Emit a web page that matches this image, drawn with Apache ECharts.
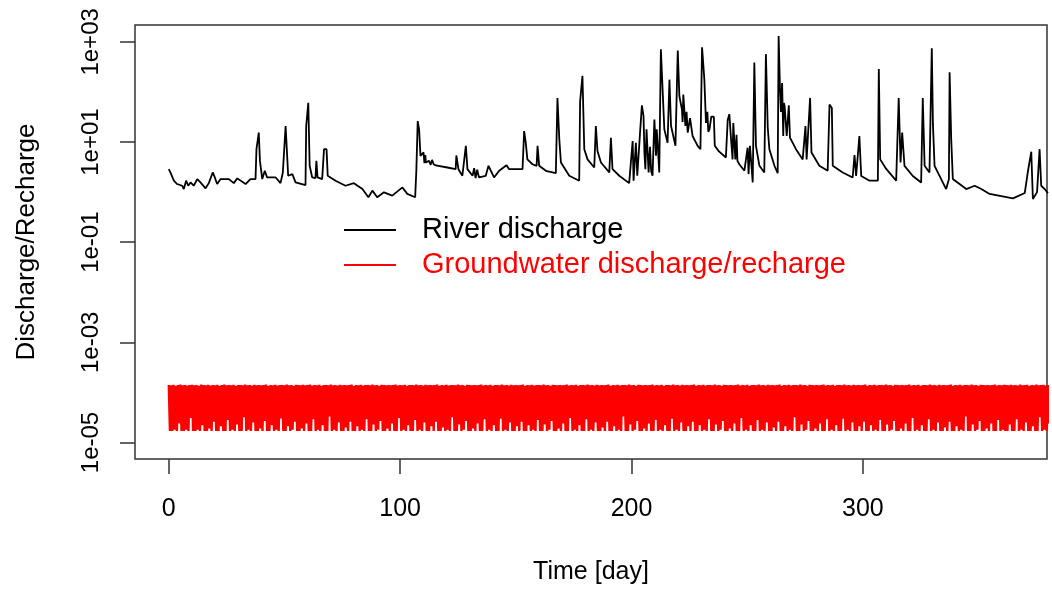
<!DOCTYPE html>
<html>
<head>
<meta charset="utf-8">
<title>River discharge</title>
<script src="https://cdn.jsdelivr.net/npm/echarts@6/dist/echarts.min.js"></script>
<style>
  html, body { margin: 0; padding: 0; background: #fff; }
  #main { width: 1052px; height: 590px; }
</style>
</head>
<body>
<div id="main"></div>
<script>
// 河流流量 (day, value)
const riverDay = [
  0, 0.7, 2.2, 3.6, 5.8, 6.5, 7.5, 8.4, 9.4, 10.8, 12.3, 13.7, 15.9, 17.3, 19.0, 19.9, 20.9, 22.4, 26.0, 28.1,
  29.6, 33.2, 35.3, 37.5, 37.9, 38.9, 39.4, 40.4, 41.5, 42.5, 46.2, 48.3, 49.3, 50.5, 51.1, 51.6, 53.4, 54.8, 59.1, 59.4,
  60.3, 60.9, 62.0, 63.4, 63.8, 64.3, 66.3, 67.1, 68.2, 68.7, 72.1, 76.4, 80.0, 83.7, 86.3, 88.0, 90.1, 93.0, 96.6, 101.0,
  103.1, 106.5, 107.0, 107.6, 108.2, 108.8, 109.6, 110.1, 110.5, 110.9, 111.1, 112.5, 113.2, 113.8, 114.5, 115.4, 120.4, 124.0, 124.3, 125.2,
  126.9, 128.4, 129.1, 131.3, 132.0, 132.6, 133.3, 134.1, 137.0,
  138.2, 140.6, 142.8, 146.0, 147.1, 152.9, 153.6, 154.3, 155.0, 157.2, 159.0, 159.4, 160.1, 163.0, 167.3, 168.0, 168.8, 169.5, 173.1, 177.4,
  177.8, 178.8, 179.6, 181.0, 183.9, 184.6, 185.3, 186.8, 190.4, 191.1, 191.8, 194.7, 199.0, 200.5, 200.9, 201.9, 202.5, 203.7, 204.5, 205.2, 205.6,
  206.0, 206.5, 207.4, 208.0, 208.5, 209.1, 209.9, 210.6, 210.9, 211.3, 212.0, 212.7, 213.2, 214.2, 215.6, 216.4, 217.1, 219.0, 220.0, 220.7,
  221.8, 222.1, 222.4, 223.3, 223.8,
  224.3, 225.3, 226.4, 228.6, 229.8, 230.5, 231.5, 232.2, 232.8, 233.2, 233.7, 234.5, 235.6, 236.0, 237.8, 240.8, 241.6, 242.3, 243.0, 243.7,
  244.0, 244.9, 245.4, 245.8,
  246.6, 248.8, 250.2, 250.6, 251.2, 252.4, 253.1, 253.8, 255.3, 257.4, 258.1, 258.9, 259.6, 261.8, 263.2, 263.6, 264.2, 264.6, 265.1, 265.6,
  265.9, 266.2,
  267.1, 268.0, 268.5, 271.1, 274.0, 275.2, 275.7, 277.2, 277.8, 281.2, 284.8, 285.6, 286.6, 287.0, 291.3, 295.6, 296.4, 297.1, 298.5, 299.3,
  302.9, 306.5, 306.9, 307.5, 310.1, 314.4, 315.5, 316.3, 317.0, 318.0, 321.6, 325.2, 325.9, 326.7, 328.8, 329.8, 330.3, 331.0, 336.0, 337.2,
  337.5, 338.2, 338.9, 344.7, 348.3, 351.2, 354.8, 364.9, 370.0, 371.4, 372.8, 373.5, 375.3, 376.4, 377.1, 378.6, 380.0
];
const riverQ = [
  2.87, 2.47, 1.69, 1.45, 1.34, 1.15, 1.69, 1.34, 1.56, 1.34, 1.82, 1.56, 1.19, 1.51, 2.47, 1.96, 1.45, 1.82, 1.82, 1.51,
  1.88, 1.45, 1.82, 1.82, 7.2, 15.4, 4.2, 1.82, 2.66, 1.96, 1.96, 1.51, 2.47, 20.9, 6.1, 2.12, 2.29, 1.56, 1.38, 20.9,
  60.5, 3.35, 1.96, 1.9, 4.2, 1.96, 1.82, 7.2, 7.2, 2.12, 1.69, 1.34, 1.51, 1.15, 0.79, 1.07, 0.79, 0.99, 0.85, 1.24,
  0.92, 0.79, 2.66, 26.2, 17.9, 5.3, 4.9, 6.2, 3.8, 5.5, 3.9, 4.2, 3.5, 4.4, 3.6, 3.4, 3.1, 2.87, 5.4, 2.87,
  2.12, 8.4, 2.87, 2.12, 3.0, 1.9, 2.8, 1.96, 2.12,
  3.35, 1.96, 2.66, 3.45, 2.87, 2.87, 16.6, 9.7, 4.5, 3.6, 3.35, 8.4, 3.35, 2.66, 2.39, 76, 11.3, 3.9, 2.12, 1.69,
  65, 211, 7.2, 4.5, 3.1, 20.9, 6.6, 3.9, 2.47, 12.2, 2.87, 2.12, 1.51, 10.5, 1.69, 9.7, 2.12, 15.4, 54, 33, 6,
  2.87, 17.9, 2.47, 8, 2.6, 2.12, 28, 5.3, 18, 9.7, 2.47, 714, 205, 17.9, 9.7, 176, 20.9, 8.4, 673, 82,
  45, 25, 89, 20.9, 40,
  15.4, 30, 13.2, 8.4, 7.2, 783, 176, 24, 40, 16, 17.9, 32, 32, 8.4, 6.5, 4.9, 28, 36, 12, 4.5,
  24, 4.5, 14, 4.2,
  3.6, 2.67, 7.7, 2.29, 8.4, 1.56, 389, 8.4, 3.35, 2.47, 569, 19.3, 7.2, 3.35, 2.39, 1315, 111, 40, 151, 13.2,
  60, 52,
  13.2, 54, 12.2, 7.2, 4.5, 20.9, 4.5, 76, 6.2, 3.35, 2.67, 56, 48, 3.35, 2.47, 1.96, 5.5, 2.1, 13.2, 2.1,
  1.69, 1.69, 287, 4.5, 2.9, 1.69, 76, 3.9, 15.4, 3.35, 2.1, 1.56, 76, 3.35, 2.47, 748, 22.5, 3.35, 1.15, 1.8,
  246, 11.3, 1.82, 1.15, 1.34, 1.15, 0.92, 0.75, 0.96, 2.67, 6.4, 0.73, 1.0, 7.2, 1.34, 1.15, 0.95
];

// 地下水补给/排泄, 单位 1e-5, 每半天一个点
const gwStep = 0.5;
const gwUnit = 1e-5;
const gwValues = [
  14,1.7,13.8,1.7,14.2,1.8,13.6,1.7,14,2.4,14.3,1.7,13.9,1.7,14.1,1.8,13.7,1.7,14,3.1,14.2,1.7,13.8,1.7,14,1.8,13.5,1.7,14.3,2.2,14,1.7,13.9,1.7,14.2,1.9,13.7,1.7,14.1,2.6,
  13.9,1.7,14.2,1.7,13.6,2.1,14,1.7,14.3,1.7,13.8,2.8,14.1,1.7,13.9,1.8,14.2,1.7,13.5,2.3,14,1.7,14.1,1.7,13.8,3.2,14.3,1.7,13.9,1.8,14,1.7,13.7,2.5,14.2,1.7,13.9,1.7,
  14.1,1.9,13.8,1.7,14,2.7,14.3,1.7,13.6,1.7,14.1,2.2,13.9,1.7,14.2,1.8,13.7,1.7,14,3,14.1,1.7,13.8,1.7,14.3,2.1,13.9,1.7,14,1.8,13.6,2.6,14.2,1.7,14,1.7,13.8,1.9,
  14.2,1.7,13.9,2.4,14,1.7,14.3,1.7,13.7,2.9,14.1,1.7,13.9,1.8,14.2,1.7,13.5,2.2,14,1.7,14.1,1.7,13.8,3.3,14.3,1.7,13.9,1.8,14,1.7,13.7,2.5,14.2,1.7,13.9,1.7,14.1,2,
  13.8,1.7,14,2.6,14.3,1.7,13.6,1.7,14.1,2.1,13.9,1.7,14.2,1.8,13.7,1.7,14,2.9,14.1,1.7,13.8,1.7,14.3,2.3,13.9,1.7,14,1.8,13.6,2.7,14.2,1.7,14,1.7,13.8,1.9,14.1,1.7,
  13.9,2.4,14,1.7,14.3,1.7,13.7,3.1,14.1,1.7,13.9,1.8,14.2,1.7,13.5,2.2,14,1.7,14.1,1.7,13.8,2.8,14.3,1.7,13.9,1.8,14,1.7,13.7,2.5,14.2,1.7,13.9,1.7,14.1,2.1,13.8,1.7,
  14,2.6,14.3,1.7,13.6,1.7,14.1,2,13.9,1.7,14.2,1.8,13.7,1.7,14,3.2,14.1,1.7,13.8,1.7,14.3,2.3,13.9,1.7,14,1.8,13.6,2.7,14.2,1.7,14,1.7,13.8,1.9,14.1,1.7,13.9,2.4,
  14,1.7,14.3,1.7,13.7,2.9,14.1,1.7,13.9,1.8,14.2,1.7,13.5,2.2,14,1.7,14.1,1.7,13.8,3,14.3,1.7,13.9,1.8,14,1.7,13.7,2.5,14.2,1.7,13.9,1.7,14.1,2.1,13.8,1.7,14,2.6,
  14.3,1.7,13.6,1.7,14.1,2.2,13.9,1.7,14.2,1.8,13.7,1.7,14,2.8,14.1,1.7,13.8,1.7,14.3,2.3,13.9,1.7,14,1.8,13.6,2.7,14.2,1.7,14,1.7,13.8,1.9,14.1,1.7,13.9,2.4,14,1.7,
  14.3,1.7,13.7,3.1,14.1,1.7,13.9,1.8,14.2,1.7,13.5,2.2,14,1.7,14.1,1.7,13.8,2.9,14.3,1.7,13.9,1.8,14,1.7,13.7,2.5,14.2,1.7,13.9,1.7,14.1,2,13.8,1.7,14,2.6,14.3,1.7,
  13.6,1.7,14.1,2.1,13.9,1.7,14.2,1.8,13.7,1.7,14,3.3,14.1,1.7,13.8,1.7,14.3,2.3,13.9,1.7,14,1.8,13.6,2.7,14.2,1.7,14,1.7,13.8,1.9,14.1,1.7,13.9,2.4,14,1.7,14.3,1.7,
  13.7,2.8,14.1,1.7,13.9,1.8,14.2,1.7,13.5,2.2,14,1.7,14.1,1.7,13.8,3,14.3,1.7,13.9,1.8,14,1.7,13.7,2.5,14.2,1.7,13.9,1.7,14.1,2.1,13.8,1.7,14,2.6,14.3,1.7,13.6,1.7,
  14.1,2.2,13.9,1.7,14.2,1.8,13.7,1.7,14,2.9,14.1,1.7,13.8,1.7,14.3,2.3,13.9,1.7,14,1.8,13.6,2.7,14.2,1.7,14,1.7,13.8,1.9,14.1,1.7,13.9,2.4,14,1.7,14.3,1.7,13.7,3.1,
  14.1,1.7,13.9,1.8,14.2,1.7,13.5,2.2,14,1.7,14.1,1.7,13.8,2.8,14.3,1.7,13.9,1.8,14,1.7,13.7,2.5,14.2,1.7,13.9,1.7,14.1,2,13.8,1.7,14,2.6,14.3,1.7,13.6,1.7,14.1,2.1,
  13.9,1.7,14.2,1.8,13.7,1.7,14,3.2,14.1,1.7,13.8,1.7,14.3,2.3,13.9,1.7,14,1.8,13.6,2.7,14.2,1.7,14,1.7,13.8,1.9,14.1,1.7,13.9,2.4,14,1.7,14.3,1.7,13.7,2.9,14.1,1.7,
  13.9,1.8,14.2,1.7,13.5,2.2,14,1.7,14.1,1.7,13.8,3,14.3,1.7,13.9,1.8,14,1.7,13.7,2.5,14.2,1.7,13.9,1.7,14.1,2.1,13.8,1.7,14,2.6,14.3,1.7,13.6,1.7,14.1,2.2,13.9,1.7,
  14.2,1.8,13.7,1.7,14,2.8,14.1,1.7,13.8,1.7,14.3,2.3,13.9,1.7,14,1.8,13.6,2.7,14.2,1.7,14,1.7,13.8,1.9,14.1,1.7,13.9,2.4,14,1.7,14.3,1.7,13.7,3.1,14.1,1.7,13.9,1.8,
  14.2,1.7,13.5,2.2,14,1.7,14.1,1.7,13.8,2.9,14.3,1.7,13.9,1.8,14,1.7,13.7,2.5,14.2,1.7,13.9,1.7,14.1,2,13.8,1.7,14,2.6,14.3,1.7,13.6,1.7,14.1,2.1,13.9,1.7,14.2,1.8,
  13.7,1.7,14,3.3,14.1,1.7,13.8,1.7,14.3,2.3,13.9,1.7,14,1.8,13.6,2.7,14.2,1.7,14,1.7,13.8,1.9,14.1,1.7,13.9,2.4,14,1.7,14.3,1.7,13.7,2.8,14.1,1.7,13.9,1.8,14.2,1.7,
  14,1.7,13.8,2.3,14.2,1.7,13.9,1.7,14.1,2.9,13.7,1.7,14.3,1.8,13.9,1.7,14,2.5,14.2,1.7,13.6,1.7,14.1,2.1,13.8,1.7,14.3,1.7,13.9,3.2,14,1.7,14.2,1.8,13.7,1.7,14.1,2.4,
  14
];

// 刻度
const xTicks = [0, 100, 200, 300];
const yTickExp = [-5, -3, -1, 1, 3]; // 10 的幂

function expLabel(v) {
  let e = Math.round(v);
  return "1e" + (e < 0 ? "-" : "+") + String(Math.abs(e)).padStart(2, "0");
}

let riverData = riverDay.map((d, i) => [d, Math.log10(riverQ[i])]);
let gwData = gwValues.map((v, i) => [i * gwStep, Math.log10(v * gwUnit)]);

const font = "'Liberation Sans', Arial, sans-serif";

let myChart = echarts.init(document.getElementById("main"));
let option = {
  animation: false,
  backgroundColor: "#fff",
  textStyle: { fontFamily: font },
  grid: {
    left: 135,
    right: 5,
    top: 25,
    bottom: 128,
    show: true,
    borderColor: "#333",
    borderWidth: 1.5,
    backgroundColor: "transparent",
  },
  legend: {
    orient: "vertical",
    left: 344,
    top: 215,
    padding: 0,
    itemWidth: 52,
    itemHeight: 2,
    itemGap: 5,
    icon: "rect",
    textStyle: {
      fontSize: 29,
      lineHeight: 30,
      fontFamily: font,
      padding: [0, 0, 0, 21],
    },
    data: [
      { name: "River discharge", textStyle: { color: "#000" } },
      { name: "Groundwater discharge/recharge", textStyle: { color: "#ff0000" } },
    ],
  },
  xAxis: {
    type: "value",
    min: -14.6,
    max: 379.6,
    name: "Time [day]",
    nameLocation: "middle",
    nameGap: 101,
    nameTextStyle: { fontSize: 25, color: "#000", fontFamily: font },
    axisLine: { show: false, onZero: false },
    splitLine: { show: false },
    axisTick: {
      show: true,
      length: 15,
      customValues: xTicks,
      lineStyle: { color: "#333", width: 1.5 },
    },
    axisLabel: {
      customValues: xTicks,
      fontSize: 25,
      color: "#000",
      margin: 38,
      fontFamily: font,
    },
  },
  yAxis: {
    type: "value",
    min: -5.33,
    max: 3.337,
    name: "Discharge/Recharge",
    nameLocation: "middle",
    nameGap: 95,
    nameTextStyle: { fontSize: 26, color: "#000", fontFamily: font },
    axisLine: { show: false, onZero: false },
    splitLine: { show: false },
    axisTick: {
      show: true,
      length: 15,
      customValues: yTickExp,
      lineStyle: { color: "#333", width: 1.5 },
    },
    axisLabel: {
      customValues: yTickExp,
      rotate: 90,
      fontSize: 24,
      color: "#000",
      margin: 32,
      fontFamily: font,
      formatter: expLabel,
    },
  },
  series: [
    {
      name: "River discharge",
      type: "line",
      data: riverData,
      showSymbol: false,
      symbol: "none",
      color: "#000",
      lineStyle: { color: "#000", width: 1.8 },
      clip: true,
      z: 3,
    },
    {
      name: "Groundwater discharge/recharge",
      type: "line",
      data: gwData,
      showSymbol: false,
      symbol: "none",
      color: "#ff0000",
      lineStyle: { color: "#ff0000", width: 2.4 },
      clip: true,
      z: 2,
    },
  ],
};
myChart.setOption(option);
</script>
</body>
</html>
